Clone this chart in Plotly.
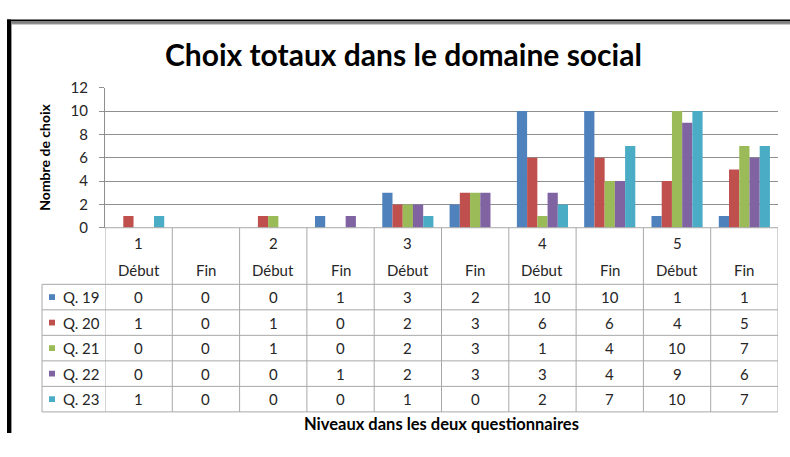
import plotly.graph_objects as go

# Chart data
levels = ["1", "2", "3", "4", "5"]
moments = ["Début", "Fin"]
series_names = ["Q. 19", "Q. 20", "Q. 21", "Q. 22", "Q. 23"]
q19 = [0, 0, 0, 1, 3, 2, 10, 10, 1, 1]
q20 = [1, 0, 1, 0, 2, 3, 6, 6, 4, 5]
q21 = [0, 0, 1, 0, 2, 3, 1, 4, 10, 7]
q22 = [0, 0, 0, 1, 2, 3, 3, 4, 9, 6]
q23 = [1, 0, 0, 0, 1, 0, 2, 7, 10, 7]
y_ticks = [0, 2, 4, 6, 8, 10, 12]

series_values = [q19, q20, q21, q22, q23]
colors = ["#4F81BD", "#C0504D", "#9BBB59", "#8064A2", "#4BACC6"]

W = 790
H = 441
FONT = "Lato"
TXT = "#262626"
GRID = "#8f8f8f"
TBL = "#a8a8a8"


def fx(px):
    return px / W


def fy(py):
    # py is measured in pixels from the top of the figure
    return 1 - py / H


def label(x, y, text, size, xref="paper", color=TXT, xanchor="center", angle=0):
    return dict(x=x, y=y, xref=xref, yref="paper", text=text, showarrow=False,
                xanchor=xanchor, yanchor="middle", textangle=angle,
                font=dict(family=FONT, size=size, color=color))


n_cat = len(levels) * len(moments)
cats = list(range(n_cat))

fig = go.Figure()
for name, vals, col in zip(series_names, series_values, colors):
    fig.add_trace(go.Bar(x=cats, y=vals, name=name, marker=dict(color=col, line=dict(width=0)),
                         showlegend=False))

plot_left, plot_right = 105, 778
plot_top, plot_bottom = 81, 227

shapes = []
annotations = []

# Data table geometry
header_top = plot_bottom
header_bot = 286
table_bot = 419
row_h = (table_bot - header_bot) / len(series_names)
legend_left = 42

for i in range(n_cat + 1):
    shapes.append(dict(type="line", xref="x", yref="paper", x0=i - 0.5, x1=i - 0.5,
                       y0=fy(header_top), y1=fy(table_bot), line=dict(color=TBL, width=1)))
for r in range(len(series_names) + 1):
    yy = header_bot + r * row_h
    shapes.append(dict(type="line", xref="paper", yref="paper", x0=fx(legend_left), x1=fx(plot_right),
                       y0=fy(yy), y1=fy(yy), line=dict(color=TBL, width=1)))
shapes.append(dict(type="line", xref="paper", yref="paper", x0=fx(legend_left), x1=fx(legend_left),
                   y0=fy(header_bot), y1=fy(table_bot), line=dict(color=TBL, width=1)))
shapes.append(dict(type="line", xref="paper", yref="paper", x0=fx(plot_left), x1=fx(plot_right),
                   y0=fy(header_top), y1=fy(header_top), line=dict(color=TBL, width=1)))

# Two-level category header
for li, lev in enumerate(levels):
    annotations.append(label(li * 2, fy(243), lev, 15, xref="x"))
for i in cats:
    annotations.append(label(i, fy(271), moments[i % 2], 15, xref="x"))

# Legend keys and value rows
for r, (name, vals, col) in enumerate(zip(series_names, series_values, colors)):
    yc = header_bot + (r + 0.5) * row_h
    shapes.append(dict(type="rect", xref="paper", yref="paper", x0=fx(49), x1=fx(55),
                       y0=fy(yc + 3), y1=fy(yc - 3), fillcolor=col, line=dict(width=0)))
    annotations.append(label(fx(61), fy(yc), name, 15, xanchor="left"))
    for i, v in enumerate(vals):
        annotations.append(label(i, fy(yc), str(v), 15, xref="x"))

# Titles
annotations.append(label(fx(404), fy(46), "<b>Choix totaux dans le domaine social</b>", 30, color="#000000"))
annotations.append(label(fx(45), fy(154), "<b>Nombre de choix</b>", 14, color="#000000", angle=-90))
annotations.append(label(fx(441), fy(432), "<b>Niveaux dans les deux questionnaires</b>", 16.5,
                         color="#000000"))

# Outer frame (double rule on top, heavy rule on the left)
frame = [
    (7, 10, W, 12, "#000000"),
    (11, 13, W, 14, "#000000"),
    (11, 14, W, 15, "#9a9a9a"),
    (7, 10, 11, H, "#000000"),
    (11, 14, 12, H, "#9a9a9a"),
]
for x0, y0, x1, y1, c in frame:
    shapes.append(dict(type="rect", xref="paper", yref="paper", x0=fx(x0), x1=fx(x1),
                       y0=fy(y1), y1=fy(y0), fillcolor=c, line=dict(width=0)))

fig.update_layout(
    width=W, height=H,
    margin=dict(l=0, r=0, t=0, b=0),
    paper_bgcolor="white", plot_bgcolor="white",
    barmode="group", bargap=0.24, bargroupgap=0,
    xaxis=dict(domain=[fx(plot_left), fx(plot_right)], range=[-0.5, n_cat - 0.5],
               showticklabels=False, showgrid=False, zeroline=False, ticks="", fixedrange=True),
    yaxis=dict(domain=[fy(plot_bottom), fy(plot_top)], range=[0, 12], tickvals=y_ticks,
               showgrid=True, gridcolor=GRID, gridwidth=1, zeroline=False,
               showline=True, linecolor=GRID, linewidth=1,
               ticks="outside", ticklen=5, tickcolor=GRID, ticklabelstandoff=8,
               tickfont=dict(family=FONT, size=15, color=TXT)),
    shapes=shapes, annotations=annotations,
)

fig.write_html("out.html")
